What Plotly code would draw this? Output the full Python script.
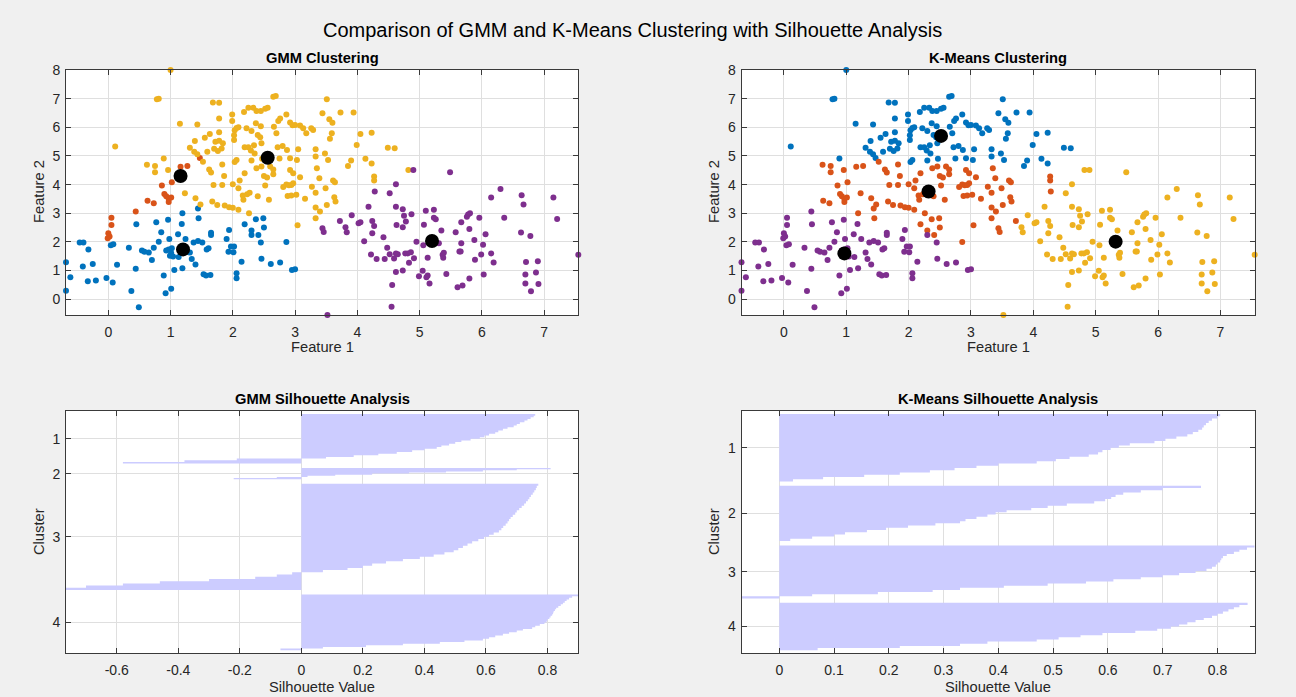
import plotly.graph_objects as go

# ---------------- data ----------------
# Scatter points grouped by (GMM cluster, K-Means cluster)
# GMM: 1 blue, 2 orange, 3 yellow, 4 purple ; K-Means: 1 blue, 2 orange, 3 yellow, 4 purple
g1_k4 = [(-0.68, 1.29), (-0.61, 0.77), (-0.68, 0.30), (-0.46, 1.98), (-0.40, 1.98), (-0.41, 1.14),
         (-0.32, 1.74), (-0.25, 1.23), (-0.33, 0.63), (-0.20, 0.65), (-0.03, 0.74), (0.07, 0.58),
         (0.04, 1.88), (0.08, 1.92), (0.14, 1.20), (0.33, 1.80), (0.45, 2.62), (0.44, 1.06),
         (0.37, 0.29), (0.49, -0.28), (0.54, 1.70), (0.58, 1.66), (0.65, 1.63), (0.70, 1.37),
         (0.73, 1.80), (0.77, 2.69), (0.81, 2.01), (0.85, 2.34), (0.89, 0.83), (0.92, 0.21),
         (0.96, 2.77), (0.93, 1.70), (0.97, 1.74), (0.99, 1.52), (1.01, 1.61), (1.02, 1.78),
         (1.04, 1.49), (1.01, 0.37), (0.98, 2.10), (1.06, 1.02), (1.12, 2.27), (1.13, 1.47),
         (1.18, 2.63), (1.19, 1.08), (1.24, 2.10), (1.31, 1.63), (1.34, 1.40), (1.37, 1.98),
         (1.40, 1.21), (1.44, 2.03), (1.51, 1.98), (1.53, 0.87), (1.57, 0.83), (1.64, 0.85),
         (1.58, 1.74), (1.61, 1.78), (1.65, 2.32), (1.65, 2.24), (1.90, 2.10), (1.94, 2.42),
         (1.93, 1.66), (1.97, 1.84), (2.01, 1.64), (2.02, 1.84), (2.06, 0.91), (2.06, 0.73),
         (2.14, 1.31), (2.30, 2.24), (2.45, 1.98), (2.46, 1.41), (2.61, 1.23), (2.76, 1.28),
         (2.95, 1.02), (3.00, 1.05)]
g1_k2 = [(1.19, 3.00), (1.44, 3.17), (1.45, 2.83), (2.19, 2.62), (2.30, 2.40), (2.37, 2.79),
         (2.41, 2.24), (2.49, 2.83), (2.50, 2.50), (2.86, 2.00)]
g2_k4 = [(0.00, 2.30), (0.02, 2.19), (-0.01, 2.13), (0.05, 2.84), (0.05, 2.59), (0.44, 3.06)]
g2_k2 = [(0.63, 3.44), (0.73, 3.35), (0.86, 3.97), (0.90, 3.67), (0.93, 3.59), (0.97, 3.50),
         (1.01, 3.55), (0.97, 3.39), (1.02, 4.08), (1.16, 4.62), (1.27, 4.65)]
g2_k1 = [(1.47, 4.93)]
g3_k1 = [(1.00, 8.00), (0.78, 6.98), (0.81, 7.00), (0.11, 5.33), (0.89, 4.91), (1.15, 6.12),
         (1.43, 6.10), (1.31, 5.29), (1.39, 5.52), (1.38, 5.15), (1.43, 5.06), (1.55, 5.64),
         (1.63, 5.77), (1.59, 5.15), (1.68, 6.87), (1.78, 6.86), (1.78, 6.31), (1.72, 5.50),
         (1.78, 5.53), (1.84, 5.44), (1.70, 5.25), (1.76, 5.17), (1.82, 5.26), (1.78, 5.83),
         (1.99, 6.45), (1.99, 6.22), (2.03, 5.90), (2.02, 5.72), (2.06, 5.98), (2.09, 6.00),
         (2.02, 5.56), (2.03, 4.79), (2.06, 4.86), (2.18, 6.53), (2.25, 6.68), (2.33, 6.68),
         (2.38, 6.57), (2.45, 6.57), (2.52, 6.65), (2.56, 6.68), (2.22, 5.97), (2.30, 5.87),
         (2.37, 6.14), (2.40, 5.73), (2.45, 6.04), (2.19, 5.30), (2.25, 5.30), (2.29, 5.19),
         (2.34, 5.37), (2.35, 5.09), (2.30, 4.84), (2.47, 4.90), (2.46, 5.44), (2.44, 5.65),
         (2.65, 7.07), (2.69, 7.09), (2.66, 6.02), (2.70, 5.79), (2.73, 6.22), (2.76, 6.31),
         (2.72, 5.30), (2.80, 5.35), (2.87, 5.21), (2.75, 4.91), (2.86, 6.45), (2.92, 6.17),
         (2.96, 6.07), (3.00, 6.08), (3.08, 6.06), (3.13, 5.97), (2.92, 4.92), (3.03, 4.86),
         (3.05, 5.23), (3.18, 5.79), (3.26, 5.97), (3.29, 5.91), (3.33, 5.23), (3.33, 4.98),
         (3.51, 6.98), (3.44, 6.49), (3.73, 6.52), (3.94, 6.52), (3.55, 6.28), (3.60, 6.16),
         (3.59, 5.79), (3.56, 5.60), (4.05, 5.77), (4.23, 5.81), (3.99, 5.38), (4.49, 5.29),
         (4.60, 5.27), (3.48, 5.09), (3.53, 4.86), (4.13, 4.90), (4.23, 4.74), (3.90, 4.84),
         (3.85, 4.65)]
g3_k2 = [(0.62, 4.69), (0.75, 4.65), (0.75, 4.43), (0.96, 4.51), (1.23, 3.70), (1.40, 3.52),
         (1.48, 3.31), (1.52, 4.80), (1.62, 4.53), (1.65, 4.42), (1.69, 3.99), (1.67, 3.41),
         (1.86, 4.30), (1.83, 3.99), (1.75, 3.29), (1.83, 4.70), (1.87, 3.27), (1.94, 3.21),
         (2.00, 3.19), (2.09, 3.12), (2.00, 4.01), (2.09, 3.87), (2.11, 4.14), (2.16, 3.62),
         (2.17, 3.47), (2.19, 4.40), (2.26, 3.00), (2.23, 3.66), (2.27, 3.72), (2.38, 4.57),
         (2.40, 3.59), (2.46, 4.63), (2.50, 4.30), (2.52, 3.97), (2.55, 4.25), (2.58, 3.47),
         (2.60, 4.63), (2.65, 4.36), (2.65, 4.53), (2.81, 3.92), (2.86, 4.00), (2.90, 3.98),
         (2.94, 3.99), (2.97, 4.05), (2.88, 3.60), (2.94, 3.62), (3.02, 3.65), (2.92, 4.51),
         (2.97, 4.40), (3.08, 4.26), (3.04, 2.58), (3.16, 3.51), (3.27, 3.93), (3.35, 4.57),
         (3.39, 4.22), (3.33, 3.72), (3.61, 4.14), (3.64, 4.08), (3.49, 3.87), (3.63, 3.56),
         (3.65, 3.41), (3.51, 3.29), (3.33, 3.20), (3.40, 3.06), (3.33, 2.83), (4.27, 4.28),
         (4.27, 4.14)]
g3_k3 = [(4.82, 4.51)]
g4_k3 = [(4.90, 4.51), (5.49, 4.43), (4.62, 4.01), (4.52, 3.70), (4.18, 3.23), (4.62, 3.23),
         (4.73, 3.14), (4.87, 2.97), (4.75, 2.91), (4.78, 2.71), (3.91, 2.93), (3.81, 2.51),
         (3.83, 2.34), (4.02, 2.65), (4.05, 2.69), (4.24, 2.73), (4.27, 2.56), (4.24, 2.30),
         (4.63, 2.59), (4.73, 2.51), (4.42, 2.16), (4.11, 2.02), (4.48, 1.80), (4.22, 1.56),
         (4.31, 1.40), (4.44, 1.40), (4.52, 1.57), (4.59, 1.42), (4.62, 1.60), (4.65, 1.57),
         (4.62, 0.95), (4.73, 1.00), (4.56, 0.50), (4.55, -0.26), (4.77, 1.60), (4.81, 1.60),
         (4.83, 1.27), (4.91, 1.43), (4.86, 1.64), (4.95, 2.01), (5.07, 2.60), (5.10, 3.09),
         (5.23, 3.12), (5.23, 2.84), (5.26, 2.79), (5.06, 1.88), (5.13, 1.45), (5.05, 0.99),
         (4.99, 0.80), (5.11, 0.77), (5.13, 0.83), (5.16, 0.55), (5.31, 1.95), (5.35, 2.40),
         (5.37, 1.55), (5.38, 1.45), (5.39, 1.62), (5.43, 0.88), (5.58, 2.34), (5.67, 1.95),
         (5.64, 1.67), (5.66, 1.67), (5.67, 2.69), (5.61, 0.42), (5.69, 0.48), (5.76, 2.88),
         (5.78, 2.96), (5.81, 3.00), (5.80, 2.45), (5.88, 2.07), (5.80, 0.72), (5.89, 1.38),
         (5.96, 2.84), (5.99, 1.56), (6.02, 1.90), (6.03, 0.86), (6.06, 2.27), (6.15, 3.55),
         (6.15, 1.60), (6.19, 1.28), (6.30, 3.85), (6.36, 2.84), (6.64, 3.63), (6.67, 3.31),
         (6.63, 2.33), (6.78, 2.21), (6.71, 1.30), (6.70, 0.86), (6.70, 0.55), (6.79, 0.28),
         (6.87, 0.93), (6.90, 1.33), (6.91, 0.53), (7.15, 3.55), (7.21, 2.80), (7.55, 1.55),
         (3.52, -0.55)]
g4_k2 = [(3.44, 2.48), (3.46, 2.35), (3.72, 2.73), (4.28, 3.76)]

gmm_center_f1 = [1.20, 1.16, 2.56, 5.20]
gmm_center_f2 = [1.74, 4.30, 4.94, 2.03]
km_center_f1 = [2.52, 2.32, 5.32, 0.97]
km_center_f2 = [5.70, 3.76, 2.01, 1.60]

# Silhouette values (sorted, descending) sampled along each cluster, and cluster sizes
gmm_sil_sizes = [89, 20, 191, 100]
gmm_sil_1 = [0.76, 0.755, 0.745, 0.735, 0.725, 0.71, 0.70, 0.69, 0.67, 0.655, 0.64, 0.63, 0.61,
             0.595, 0.58, 0.55, 0.52, 0.50, 0.48, 0.455, 0.44, 0.40, 0.36, 0.31, 0.25, 0.17,
             0.08, -0.21, -0.38, -0.58]
gmm_sil_2 = [0.81, 0.70, 0.59, 0.47, 0.35, 0.23, 0.11, 0.02, -0.08, -0.22]
gmm_sil_3 = [0.77, 0.765, 0.762, 0.757, 0.752, 0.746, 0.741, 0.736, 0.73, 0.724, 0.716, 0.708,
             0.70, 0.695, 0.687, 0.68, 0.675, 0.67, 0.664, 0.656, 0.65, 0.642, 0.625, 0.61,
             0.594, 0.575, 0.555, 0.54, 0.525, 0.51, 0.495, 0.465, 0.43, 0.385, 0.33, 0.275,
             0.23, 0.20, 0.15, 0.07, -0.03, -0.08, -0.15, -0.30, -0.46, -0.58, -0.70, -0.765]
gmm_sil_4 = [0.90, 0.88, 0.87, 0.862, 0.856, 0.85, 0.843, 0.835, 0.828, 0.824, 0.82, 0.818,
             0.815, 0.81, 0.806, 0.80, 0.797, 0.79, 0.775, 0.76, 0.75, 0.72, 0.70, 0.675,
             0.655, 0.63, 0.61, 0.59, 0.53, 0.45, 0.33, 0.21, 0.07, -0.068]

km_sil_sizes = [121, 99, 95, 85]
km_sil_1 = [0.805, 0.80, 0.79, 0.784, 0.779, 0.775, 0.772, 0.765, 0.755, 0.745, 0.725, 0.705,
            0.685, 0.64, 0.62, 0.605, 0.59, 0.582, 0.565, 0.53, 0.505, 0.47, 0.40, 0.36, 0.32,
            0.275, 0.22, 0.155, 0.08, 0.025]
km_sil_2 = [0.77, 0.70, 0.66, 0.628, 0.614, 0.606, 0.595, 0.575, 0.525, 0.49, 0.46, 0.415,
            0.395, 0.38, 0.36, 0.34, 0.33, 0.285, 0.235, 0.195, 0.16, 0.12, 0.10, 0.06, 0.02]
km_sil_3 = [0.868, 0.854, 0.84, 0.83, 0.817, 0.81, 0.807, 0.805, 0.80, 0.797, 0.79, 0.78, 0.76,
            0.73, 0.70, 0.66, 0.61, 0.56, 0.49, 0.41, 0.33, 0.28, 0.18, 0.06, -0.069]
km_sil_4 = [0.855, 0.84, 0.83, 0.82, 0.81, 0.80, 0.79, 0.775, 0.76, 0.745, 0.73, 0.715, 0.69,
            0.65, 0.59, 0.55, 0.51, 0.47, 0.38, 0.33, 0.22, 0.07]

scatter_xticks = [0, 1, 2, 3, 4, 5, 6, 7]
scatter_yticks = [0, 1, 2, 3, 4, 5, 6, 7, 8]
gmm_sil_xticks = [-0.6, -0.4, -0.2, 0, 0.2, 0.4, 0.6, 0.8]
gmm_sil_xticktext = ['-0.6', '-0.4', '-0.2', '0', '0.2', '0.4', '0.6', '0.8']
km_sil_xticks = [0, 0.1, 0.2, 0.3, 0.4, 0.5, 0.6, 0.7, 0.8]
km_sil_xticktext = ['0', '0.1', '0.2', '0.3', '0.4', '0.5', '0.6', '0.7', '0.8']
cluster_labels = ['1', '2', '3', '4']

# ---------------- style ----------------
W, H = 1296, 697
FONT = "Liberation Sans, Arial, sans-serif"
TXT = '#262626'
COLORS = ['#0072BD', '#D95319', '#EDB120', '#7E2F8E']
SIL_FILL = '#ccccff'
GAP = 8  # rows of spacing between silhouette clusters


def px(x):
    return x / W


def py(y):
    return 1 - y / H


def unzip(groups):
    xs, ys = [], []
    for g in groups:
        xs += [p[0] for p in g]
        ys += [p[1] for p in g]
    return xs, ys


fig = go.Figure()

gmm_groups = [[g1_k4, g1_k2], [g2_k4, g2_k2, g2_k1], [g3_k1, g3_k2, g3_k3], [g4_k3, g4_k2]]
km_groups = [[g2_k1, g3_k1], [g1_k2, g2_k2, g3_k2, g4_k2], [g3_k3, g4_k3], [g1_k4, g2_k4]]

all_x, all_y = unzip([g for grp in gmm_groups for g in grp])

for axn, groups, cx, cy in [('', gmm_groups, gmm_center_f1, gmm_center_f2),
                            ('2', km_groups, km_center_f1, km_center_f2)]:
    for i, grp in enumerate(groups):
        xs, ys = unzip(grp)
        fig.add_trace(go.Scatter(x=xs, y=ys, mode='markers', xaxis='x' + axn, yaxis='y' + axn,
                                 marker=dict(size=6, color=COLORS[i], line=dict(width=0)),
                                 cliponaxis=False, showlegend=False, hoverinfo='skip'))
    fig.add_trace(go.Scatter(x=cx, y=cy, mode='markers', xaxis='x' + axn, yaxis='y' + axn,
                             marker=dict(size=14, color='black', line=dict(width=0)),
                             cliponaxis=False, showlegend=False, hoverinfo='skip'))


def add_silhouette(values_list, sizes, axn):
    start = GAP + 0.5
    ticks = []
    allv = []
    for vals, n in zip(values_list, sizes):
        step = n / len(vals)
        xs, ys = [0], [start]
        for j, v in enumerate(vals):
            top = start + j * step
            xs += [v, v]
            ys += [top, top + step]
        xs += [0, 0]
        ys += [start + n, start]
        fig.add_trace(go.Scatter(x=xs, y=ys, mode='lines', fill='toself', fillcolor=SIL_FILL,
                                 line=dict(width=0, color=SIL_FILL), xaxis='x' + axn,
                                 yaxis='y' + axn, showlegend=False, hoverinfo='skip'))
        ticks.append(start + n / 2)
        allv += vals
        start += n + GAP
    end = start - GAP
    return ticks, [min(allv), max(allv)], [end + 5.5, GAP + 0.5 - 5.9]


gmm_ticks, gmm_xr, gmm_yr = add_silhouette([gmm_sil_1, gmm_sil_2, gmm_sil_3, gmm_sil_4],
                                           gmm_sil_sizes, '3')
km_ticks, km_xr, km_yr = add_silhouette([km_sil_1, km_sil_2, km_sil_3, km_sil_4],
                                        km_sil_sizes, '4')

axis_common = dict(showgrid=True, gridcolor='#dfdfdf', gridwidth=1, zeroline=False,
                   showline=True, linecolor='#3a3a3a', linewidth=1, mirror='ticks',
                   ticks='inside', ticklen=5, tickcolor='#3a3a3a', tickwidth=1,
                   tickfont=dict(family=FONT, size=14, color=TXT), automargin=False)
xaxis_extra = dict(ticklabelstandoff=4)
yaxis_extra = dict(ticklabelstandoff=2)

xr_scatter = [min(all_x), max(all_x)]
yr_scatter = [min(all_y), max(all_y)]

top_y = [py(315), py(70)]
bot_y = [py(653.3), py(410.7)]
left_x = [px(66), px(578.3)]
right_x = [px(741.5), px(1254.7)]

fig.update_layout(
    width=W, height=H, margin=dict(l=0, r=0, t=0, b=0),
    paper_bgcolor='#f0f0f0', plot_bgcolor='white', showlegend=False,
    font=dict(family=FONT, color=TXT),
    xaxis=dict(domain=left_x, anchor='y', range=xr_scatter, tickvals=scatter_xticks,
               **axis_common, **xaxis_extra),
    yaxis=dict(domain=top_y, anchor='x', range=yr_scatter, tickvals=scatter_yticks,
               **axis_common, **yaxis_extra),
    xaxis2=dict(domain=right_x, anchor='y2', range=xr_scatter, tickvals=scatter_xticks,
                **axis_common, **xaxis_extra),
    yaxis2=dict(domain=top_y, anchor='x2', range=yr_scatter, tickvals=scatter_yticks,
                **axis_common, **yaxis_extra),
    xaxis3=dict(domain=left_x, anchor='y3', range=gmm_xr, tickvals=gmm_sil_xticks,
                ticktext=gmm_sil_xticktext, **axis_common, **xaxis_extra),
    yaxis3=dict(domain=bot_y, anchor='x3', range=gmm_yr, tickvals=gmm_ticks,
                ticktext=cluster_labels, **axis_common, **yaxis_extra),
    xaxis4=dict(domain=right_x, anchor='y4', range=km_xr, tickvals=km_sil_xticks,
                ticktext=km_sil_xticktext, **axis_common, **xaxis_extra),
    yaxis4=dict(domain=bot_y, anchor='x4', range=km_yr, tickvals=km_ticks,
                ticktext=cluster_labels, **axis_common, **yaxis_extra),
)

annotations = []


def text(x, y, s, size, color=TXT, bold=False, angle=0):
    annotations.append(dict(x=px(x), y=py(y), xref='paper', yref='paper', text=('<b>%s</b>' % s) if bold else s,
                            showarrow=False, xanchor='center', yanchor='middle', textangle=angle,
                            font=dict(family=FONT, size=size, color=color)))


text(632.5, 30, 'Comparison of GMM and K-Means Clustering with Silhouette Analysis', 20, color='black')
text(322, 58, 'GMM Clustering', 14.7, color='black', bold=True)
text(998, 58, 'K-Means Clustering', 14.7, color='black', bold=True)
text(322, 399, 'GMM Silhouette Analysis', 14.7, color='black', bold=True)
text(998, 399, 'K-Means Silhouette Analysis', 14.7, color='black', bold=True)
text(322, 347, 'Feature 1', 14.7)
text(998, 347, 'Feature 1', 14.7)
text(39, 192, 'Feature 2', 14.7, angle=-90)
text(714, 192, 'Feature 2', 14.7, angle=-90)
text(322, 687, 'Silhouette Value', 14.7)
text(998, 687, 'Silhouette Value', 14.7)
text(39, 532, 'Cluster', 14.7, angle=-90)
text(714, 532, 'Cluster', 14.7, angle=-90)
fig.update_layout(annotations=annotations)

fig.write_html("out.html", config={'displayModeBar': False},
               post_script="document.body.style.margin='0';document.body.style.overflow='hidden';")
